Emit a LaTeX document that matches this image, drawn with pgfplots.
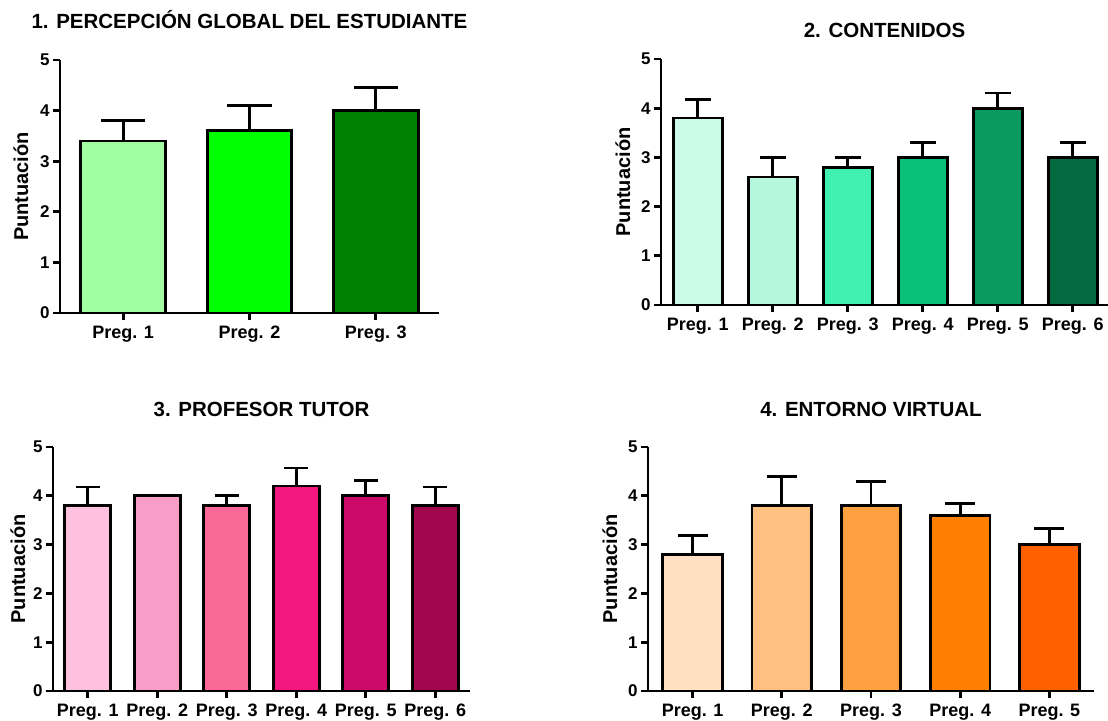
\documentclass[border=0pt]{standalone}
\usepackage{fontspec}
\setmainfont{Liberation Sans}
\usepackage{pgfplots}
\pgfplotsset{compat=1.18}

\definecolor{g1}{HTML}{A0FFA0}
\definecolor{g2}{HTML}{00FF00}
\definecolor{g3}{HTML}{008000}
\definecolor{c1}{HTML}{CCFAE8}
\definecolor{c2}{HTML}{B4F7DD}
\definecolor{c3}{HTML}{40F0B0}
\definecolor{c4}{HTML}{08C078}
\definecolor{c5}{HTML}{0A9A60}
\definecolor{c6}{HTML}{066A40}
\definecolor{p1}{HTML}{FFC0E0}
\definecolor{p2}{HTML}{F99CC8}
\definecolor{p3}{HTML}{FA6898}
\definecolor{p4}{HTML}{F21880}
\definecolor{p5}{HTML}{CC0868}
\definecolor{p6}{HTML}{A0074C}
\definecolor{o1}{HTML}{FFE0C0}
\definecolor{o2}{HTML}{FFC080}
\definecolor{o3}{HTML}{FFA040}
\definecolor{o4}{HTML}{FF8000}
\definecolor{o5}{HTML}{FF6000}

\pgfplotsset{
  panel/.style={
    scale only axis, anchor=south west,
    ybar, ymin=0, ymax=5, ytick={0,...,5},
    axis lines=left, axis line style={-, line width=2.8pt},
    tick align=outside, major tick length=7pt,
    tick style={line width=2.8pt, black},
    xtick={1,...,6},
    /pgf/number format/assume math mode=true,
    yticklabel style={font=\fontsize{17}{19}\selectfont\bfseries},
    xticklabel style={font=\fontsize{18}{20}\selectfont\bfseries, anchor=base, yshift=-18pt},
    ylabel={Puntuación},
    ylabel style={font=\fontsize{20}{22}\selectfont\bfseries, anchor=center},
    title style={font=\fontsize{20.5}{22}\selectfont\bfseries, anchor=base},
    clip=false,
  },
  bars/.style={draw=black, line width=2.8pt, bar shift=0pt, fill=#1,
    error bars/.cd, y dir=plus, y explicit,
    error bar style={line width=2.8pt, black}},
}

\begin{document}
\begin{tikzpicture}
\useasboundingbox (0,0) rectangle (1108pt,-720pt);

% 1
\begin{axis}[panel, at={(60pt,-313pt)}, width=379pt, height=253pt,
  xmin=0.5, xmax=3.5, bar width=0.67,
  xticklabels={Preg. 1,Preg. 2,Preg. 3},
  ylabel style={at={([xshift=-39pt]axis description cs:0,0.5)}},
  title style={at={([yshift=26pt]axis description cs:0.5,1)}},
  title={1. PERCEPCIÓN GLOBAL DEL ESTUDIANTE},
  error bars/error mark options={rotate=90, line width=2.8pt, black, mark size=22pt}]
\addplot[bars=g1] coordinates {(1,3.4) +- (0,0.4)};
\addplot[bars=g2] coordinates {(2,3.6) +- (0,0.5)};
\addplot[bars=g3] coordinates {(3,4.0) +- (0,0.45)};
\end{axis}

% 2
\begin{axis}[panel, at={(661pt,-305pt)}, width=447pt, height=246pt,
  xmin=0.51, xmax=6.47, bar width=0.65,
  xticklabels={Preg. 1,Preg. 2,Preg. 3,Preg. 4,Preg. 5,Preg. 6},
  ylabel style={at={([xshift=-38pt]axis description cs:0,0.5)}},
  title style={at={([yshift=16pt]axis description cs:0.5,1)}},
  title={2. CONTENIDOS},
  error bars/error mark options={rotate=90, line width=2.8pt, black, mark size=13pt}]
\addplot[bars=c1] coordinates {(1,3.8) +- (0,0.37)};
\addplot[bars=c2] coordinates {(2,2.6) +- (0,0.4)};
\addplot[bars=c3] coordinates {(3,2.8) +- (0,0.2)};
\addplot[bars=c4] coordinates {(4,3.0) +- (0,0.31)};
\addplot[bars=c5] coordinates {(5,4.0) +- (0,0.31)};
\addplot[bars=c6] coordinates {(6,3.0) +- (0,0.31)};
\end{axis}

% 3
\begin{axis}[panel, at={(53pt,-691pt)}, width=417pt, height=244pt,
  xmin=0.5, xmax=6.5, bar width=0.66,
  xticklabels={Preg. 1,Preg. 2,Preg. 3,Preg. 4,Preg. 5,Preg. 6},
  ylabel style={at={([xshift=-35pt]axis description cs:0,0.5)}},
  title style={at={([yshift=25pt]axis description cs:0.5,1)}},
  title={3. PROFESOR TUTOR},
  error bars/error mark options={rotate=90, line width=2.8pt, black, mark size=12pt}]
\addplot[bars=p1] coordinates {(1,3.8) +- (0,0.38)};
\addplot[bars=p2] coordinates {(2,4.0) +- (0,0)};
\addplot[bars=p3] coordinates {(3,3.8) +- (0,0.2)};
\addplot[bars=p4] coordinates {(4,4.2) +- (0,0.37)};
\addplot[bars=p5] coordinates {(5,4.0) +- (0,0.31)};
\addplot[bars=p6] coordinates {(6,3.8) +- (0,0.38)};
\end{axis}

% 4
\begin{axis}[panel, at={(648pt,-691pt)}, width=446pt, height=244pt,
  xmin=0.5, xmax=5.5, bar width=0.67,
  xticklabels={Preg. 1,Preg. 2,Preg. 3,Preg. 4,Preg. 5},
  ylabel style={at={([xshift=-38pt]axis description cs:0,0.5)}},
  title style={at={([yshift=25pt]axis description cs:0.5,1)}},
  title={4. ENTORNO VIRTUAL},
  error bars/error mark options={rotate=90, line width=2.8pt, black, mark size=15pt}]
\addplot[bars=o1] coordinates {(1,2.8) +- (0,0.38)};
\addplot[bars=o2] coordinates {(2,3.8) +- (0,0.6)};
\addplot[bars=o3] coordinates {(3,3.8) +- (0,0.5)};
\addplot[bars=o4] coordinates {(4,3.6) +- (0,0.25)};
\addplot[bars=o5] coordinates {(5,3.0) +- (0,0.33)};
\end{axis}
\end{tikzpicture}
\end{document}
